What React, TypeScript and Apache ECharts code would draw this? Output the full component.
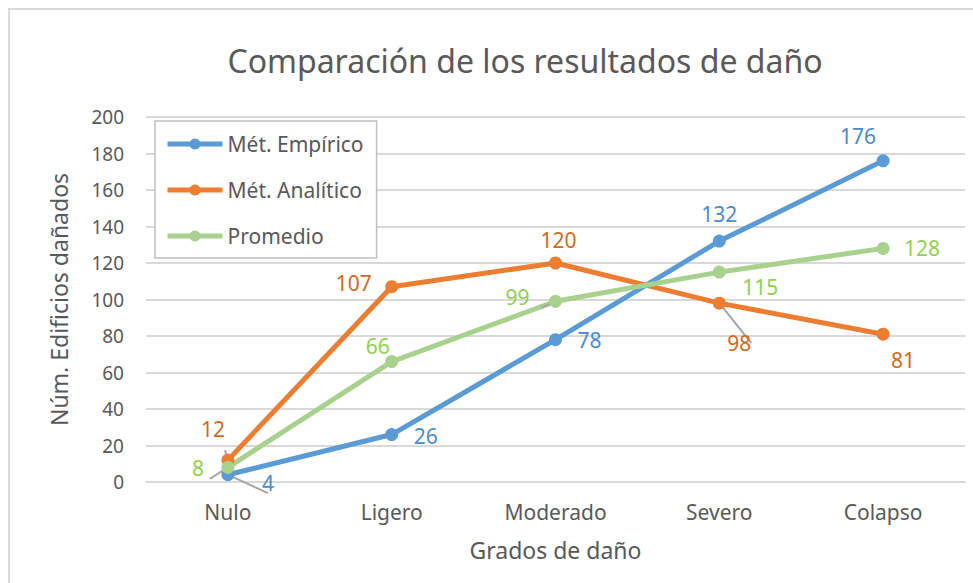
import React, { useEffect, useRef } from "react";
import * as echarts from "echarts";

const categories = ["Nulo", "Ligero", "Moderado", "Severo", "Colapso"];
const empirico = [4, 26, 78, 132, 176];
const analitico = [12, 107, 120, 98, 81];
const promedio = [8, 66, 99, 115, 128];
const yTicks = { min: 0, max: 200, interval: 20 };

const FONT = "'Noto Sans', 'Open Sans', sans-serif";

// label offsets (pixel) relative to point center, and leader flags
const empOffsets: [number, number, boolean][] = [
  [40, 8, true],
  [34, 1, false],
  [34, 0, false],
  [0, -27, false],
  [-25, -25, false],
];
const anaOffsets: [number, number, boolean][] = [
  [-15, -31, true],
  [-38, -4, false],
  [3, -23, false],
  [20, 40, true],
  [20, 26, false],
];
const proOffsets: [number, number, boolean][] = [
  [-30, 1, true],
  [-14, -16, false],
  [-38, -4, true],
  [41, 15, false],
  [39, 0, false],
];

function buildData(vals: number[], offs: [number, number, boolean][], color: string) {
  return vals.map((v, i) => ({
    value: v,
    label: {
      show: true,
      position: "inside",
      offset: [offs[i][0], offs[i][1]],
      color,
      fontSize: 21,
      fontFamily: FONT,
    },
    labelLine: offs[i][2]
      ? { show: true, lineStyle: { color: "#a6a6a6", width: 2 } }
      : { show: false },
  }));
}

export default function App() {
  const ref = useRef<HTMLDivElement>(null);
  useEffect(() => {
    document.body.style.margin = "0";
    const chart = echarts.init(ref.current!, undefined, { renderer: "svg" });
    const mkSeries = (name: string, vals: number[], offs: any, color: string, labelColor: string) => ({
      name,
      type: "line",
      data: buildData(vals, offs, labelColor),
      symbol: "circle",
      symbolSize: 13,
      lineStyle: { width: 5, color },
      itemStyle: { color },
      emphasis: { disabled: true },
    });
    chart.setOption({
      animation: false,
      graphic: [
        {
          type: "rect",
          shape: { x: 9, y: 9, width: 1200, height: 1200 },
          style: { fill: "none", stroke: "#d9d9d9", lineWidth: 2 },
          silent: true,
        },
        {
          type: "text",
          x: 525,
          y: 60,
          style: {
            text: "Comparación de los resultados de daño",
            fill: "#595959",
            font: `32px ${FONT}`,
            textAlign: "center",
            textVerticalAlign: "middle",
          },
        },
      ],
      legend: {
        orient: "vertical",
        left: 155,
        top: 121,
        padding: [11, 13, 10, 10],
        itemWidth: 55,
        itemHeight: 14,
        itemGap: 22,
        borderColor: "#bfbfbf",
        borderWidth: 1.5,
        backgroundColor: "#fff",
        lineStyle: { width: 5 },
        textStyle: { color: "#595959", fontSize: 21, fontFamily: FONT, lineHeight: 24 },
        data: ["Mét. Empírico", "Mét. Analítico", "Promedio"],
      },
      grid: { left: 146, right: 8, top: 117, bottom: 101 },
      xAxis: {
        type: "category",
        data: categories,
        name: "Grados de daño",
        nameLocation: "middle",
        nameGap: 56,
        nameTextStyle: { color: "#595959", fontSize: 23, fontFamily: FONT },
        axisLine: { lineStyle: { color: "#d9d9d9", width: 2 } },
        axisTick: { show: false },
        axisLabel: { color: "#595959", fontSize: 21, fontFamily: FONT, margin: 19 },
      },
      yAxis: {
        type: "value",
        min: yTicks.min,
        max: yTicks.max,
        interval: yTicks.interval,
        name: "Núm. Edificios dañados",
        nameLocation: "middle",
        nameGap: 76,
        nameTextStyle: { color: "#595959", fontSize: 23, fontFamily: FONT },
        axisLine: { show: false },
        axisTick: { show: false },
        splitLine: { lineStyle: { color: "#d9d9d9", width: 2 } },
        axisLabel: { color: "#595959", fontSize: 19, fontFamily: FONT, margin: 22 },
      },
      series: [
        mkSeries("Mét. Empírico", empirico, empOffsets, "#5b9bd5", "#4a8bcf"),
        mkSeries("Mét. Analítico", analitico, anaOffsets, "#ed7d31", "#d2691e"),
        mkSeries("Promedio", promedio, proOffsets, "#a9d18e", "#92d050"),
      ],
    });
    return () => chart.dispose();
  }, []);
  return <div ref={ref} style={{ width: 973, height: 583 }} />;
}
